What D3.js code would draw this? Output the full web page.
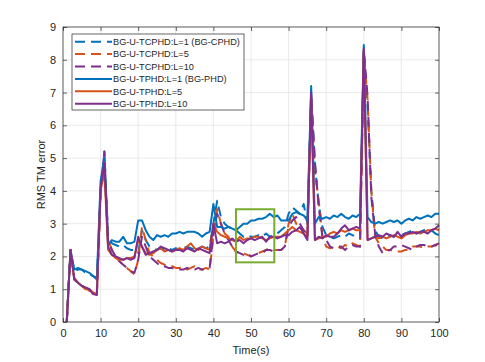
<!DOCTYPE html>
<html>
<head>
<meta charset="utf-8">
<script src="https://cdn.jsdelivr.net/npm/d3@7"></script>
<style>
  body { margin: 0; background: #fff; }
  svg text { font-family: "Liberation Sans", Arial, Helvetica, sans-serif; fill: #262626; }
</style>
</head>
<body>
<div id="chart"></div>
<script>
// time steps (s)
var time = d3.range(1, 101);

// BG-U-TCPHD (dashed)
var tcphdL1 = [
  0, 2.2, 1.55, 1.6, 1.6, 1.5, 1.45, 1.4, 1.35,
  4.0, 5.2, 2.6, 2.4, 2.35, 2.3, 2.35, 2.25, 2.2, 2.2,
  2.1, 2.8, 2.5, 2.3, 2.25, 2.2, 2.25, 2.2, 2.25, 2.2,
  2.25, 2.2, 2.25, 2.3, 2.25, 2.2, 2.25, 2.3, 2.25, 2.3,
  3.0, 3.7, 3.2, 3.0, 2.9, 2.85, 2.8, 2.7, 2.6, 2.65,
  2.6, 2.6, 2.65, 2.6, 2.7, 2.6, 2.65, 2.7, 2.8, 2.9,
  3.3, 3.5, 3.4, 3.3, 3.6, 3.0, 7.0, 4.8, 3.6, 2.9,
  2.65, 2.6, 2.55, 2.6, 2.65, 2.6, 2.7, 2.65, 2.6, 2.65,
  8.3, 6.6, 4.0, 2.8, 2.6, 2.55, 2.6, 2.65, 2.6, 2.7,
  2.65, 2.7, 2.75, 2.8, 2.7, 2.75, 2.8, 2.85, 2.8, 2.7, 2.65
];
var tcphdL5 = [
  0, 2.2, 1.35, 1.2, 1.1, 1.05, 0.95, 0.9, 0.85,
  3.9, 4.8, 2.5, 2.2, 2.0, 1.85, 1.75, 1.65, 1.55, 1.45,
  1.9, 2.9, 2.5, 2.1, 2.0, 1.9, 1.8, 1.75, 1.7, 1.7,
  1.65, 1.65, 1.7, 1.6, 1.65, 1.7, 1.6, 1.6, 1.65, 1.6,
  2.6, 3.45, 3.0, 2.7, 2.6, 2.3, 2.15, 2.1, 2.1, 2.05,
  2.0, 2.05, 2.1, 2.15, 2.2, 2.25, 2.2, 2.2, 2.2, 2.3,
  3.0, 3.3, 3.0, 2.9, 2.8, 2.7, 6.8, 4.6, 3.7, 2.6,
  2.3, 2.25, 2.3, 2.3, 2.25, 2.35, 2.3, 2.4, 2.35, 2.3,
  8.2, 6.8, 4.0, 2.6, 2.4, 2.3, 2.2, 2.2, 2.15, 2.15,
  2.15, 2.2, 2.2, 2.3, 2.3, 2.3, 2.25, 2.3, 2.3, 2.35, 2.25
];
var tcphdL10 = [
  0, 2.2, 1.3, 1.2, 1.1, 1.05, 1.0, 0.9, 0.85,
  4.0, 5.2, 2.5, 2.2, 2.0, 1.85, 1.75, 1.65, 1.55, 1.5,
  1.9, 2.6, 2.3, 2.0, 1.9, 1.8, 1.7, 1.7, 1.65, 1.65,
  1.6, 1.6, 1.6, 1.65, 1.6, 1.6, 1.65, 1.6, 1.6, 1.65,
  2.7, 3.3, 3.0, 2.7, 2.5, 2.3, 2.15, 2.1, 2.05, 2.1,
  2.0, 2.05, 2.1, 2.1, 2.2, 2.2, 2.15, 2.2, 2.2, 2.3,
  2.9, 3.1, 3.2, 3.0, 2.8, 2.6, 6.9, 4.9, 3.5, 2.6,
  2.5, 2.3, 2.25, 2.3, 2.3, 2.2, 2.3, 2.35, 2.3, 2.3,
  8.3, 6.9, 3.8, 2.7, 2.3, 2.1, 2.15, 2.2, 2.3, 2.3,
  2.35, 2.3, 2.25, 2.2, 2.3, 2.35, 2.35, 2.3, 2.3, 2.35, 2.4
];

// BG-U-TPHD (solid)
var tphdL1 = [
  0, 2.2, 1.6, 1.65, 1.6, 1.55, 1.5, 1.4, 1.3,
  4.3, 5.0, 2.35, 2.5, 2.45, 2.45, 2.6, 2.4, 2.4, 2.45,
  3.1, 3.1, 2.8, 2.6, 2.5, 2.65, 2.6, 2.65, 2.6, 2.7,
  2.7, 2.75, 2.7, 2.75, 2.75, 2.75, 2.7, 2.6, 2.7, 2.75,
  3.6, 2.9, 2.9, 2.85, 2.9, 2.85, 2.8, 2.9, 3.0, 3.0,
  3.1, 3.1, 3.15, 3.15, 3.2, 3.3, 3.2, 3.25, 3.1, 3.1,
  3.1, 3.3, 3.35, 3.3, 3.25, 3.1, 7.2, 3.0, 3.2, 3.15,
  3.2, 3.15, 3.25, 3.2, 3.3, 3.2, 3.15, 3.25, 3.2, 3.3,
  8.45, 3.2, 3.05, 3.0, 3.05, 3.0, 3.05, 3.1, 3.05, 3.1,
  3.0, 3.1, 3.15, 3.1, 3.2, 3.15, 3.2, 3.25, 3.2, 3.3, 3.3
];
var tphdL5 = [
  0, 2.2, 1.3, 1.2, 1.1, 1.0, 1.0, 0.9, 0.85,
  4.0, 4.6, 2.2, 2.05, 1.95, 1.9, 1.9, 1.95, 1.95, 2.0,
  2.5, 2.3, 2.1, 2.05, 2.1, 2.2, 2.25, 2.15, 2.2, 2.15,
  2.2, 2.25, 2.2, 2.3, 2.4, 2.25, 2.2, 2.3, 2.25, 2.2,
  3.0, 2.75, 2.65, 2.6, 2.55, 2.5, 2.45, 2.6, 2.5, 2.55,
  2.55, 2.6, 2.6, 2.55, 2.5, 2.55, 2.6, 2.6, 2.6, 2.7,
  2.8, 2.9, 2.8, 2.75, 2.7, 2.6, 6.9, 2.5, 2.55, 2.6,
  2.6, 2.7, 2.75, 2.7, 2.8, 2.75, 2.8, 2.85, 2.8, 2.8,
  8.3, 2.5, 2.55, 2.6, 2.55, 2.6, 2.55, 2.6, 2.65, 2.6,
  2.55, 2.65, 2.7, 2.7, 2.75, 2.7, 2.75, 2.8, 2.8, 2.85, 2.8
];
var tphdL10 = [
  0, 2.2, 1.3, 1.2, 1.1, 1.05, 1.0, 0.85, 0.82,
  4.1, 4.85, 2.3, 2.05, 2.0, 1.95, 1.9, 1.95, 1.9, 1.95,
  2.6, 2.3, 2.05, 2.1, 2.15, 2.2, 2.3, 2.25, 2.2, 2.15,
  2.2, 2.2, 2.15, 2.25, 2.2, 2.15, 2.25, 2.2, 2.15, 2.1,
  3.0, 2.4, 2.45, 2.4, 2.45, 2.55, 2.45, 2.5, 2.4, 2.5,
  2.55, 2.5, 2.55, 2.6, 2.45, 2.6, 2.6, 2.55, 2.6, 2.65,
  2.65, 2.75, 2.8, 2.9, 2.7, 2.5, 7.0, 2.5, 2.6, 2.55,
  2.65, 2.6, 2.6, 2.7, 2.85, 2.95, 2.8, 2.85, 2.9, 2.85,
  8.35, 2.5, 2.55, 2.6, 2.65, 2.6, 2.7, 2.65, 2.6, 2.75,
  2.6, 2.7, 2.7, 2.75, 2.7, 2.75, 2.75, 2.7, 2.8, 2.85, 2.95
];

var seriesNames = [
  "BG-U-TCPHD:L=1 (BG-CPHD)", "BG-U-TCPHD:L=5", "BG-U-TCPHD:L=10",
  "BG-U-TPHD:L=1 (BG-PHD)", "BG-U-TPHD:L=5", "BG-U-TPHD:L=10"
];
var seriesValues = [tcphdL1, tcphdL5, tcphdL10, tphdL1, tphdL5, tphdL10];
var seriesColors = ["#0072BD", "#D95319", "#7E2F8E", "#0072BD", "#D95319", "#7E2F8E"];
var seriesDashed = [true, true, true, false, false, false];

var xTicks = [0, 10, 20, 30, 40, 50, 60, 70, 80, 90, 100];
var yTicks = [0, 1, 2, 3, 4, 5, 6, 7, 8, 9];

// highlighted region [t0, t1, v0, v1]
var zoomBox = [46, 56.2, 1.82, 3.44];

var width = 485, height = 362;
var margin = { top: 27, right: 46, bottom: 40, left: 63 };
var plotW = width - margin.left - margin.right;
var plotH = height - margin.top - margin.bottom;

var svg = d3.select("#chart").append("svg")
  .attr("width", width)
  .attr("height", height);

var x = d3.scaleLinear().domain([0, 100]).range([margin.left, margin.left + plotW]);
var y = d3.scaleLinear().domain([0, 9]).range([margin.top + plotH, margin.top]);

// grid
var grid = svg.append("g").attr("stroke", "#e5e5e5").attr("stroke-width", 0.8);
grid.selectAll(".gx").data(xTicks).enter().append("line")
  .attr("x1", (d) => x(d)).attr("x2", (d) => x(d))
  .attr("y1", y(0)).attr("y2", y(9));
grid.selectAll(".gy").data(yTicks).enter().append("line")
  .attr("x1", x(0)).attr("x2", x(100))
  .attr("y1", (d) => y(d)).attr("y2", (d) => y(d));

// lines
var line = d3.line()
  .x((d, i) => x(time[i]))
  .y((d) => y(d));

svg.append("g").selectAll("path")
  .data(seriesValues).enter()
  .append("path")
  .attr("d", (d) => line(d))
  .attr("fill", "none")
  .attr("stroke", (d, i) => seriesColors[i])
  .attr("stroke-width", 2)
  .attr("stroke-linejoin", "round")
  .attr("stroke-dasharray", (d, i) => seriesDashed[i] ? "10,6" : null);

// green box
svg.append("rect")
  .attr("x", x(zoomBox[0]))
  .attr("y", y(zoomBox[3]))
  .attr("width", x(zoomBox[1]) - x(zoomBox[0]))
  .attr("height", y(zoomBox[2]) - y(zoomBox[3]))
  .attr("fill", "none")
  .attr("stroke", "#77AC30")
  .attr("stroke-width", 2);

// axes
function styleAxis(g) {
  g.select(".domain").remove();
  g.selectAll(".tick line").attr("stroke", "#262626").attr("stroke-width", 0.7);
  g.selectAll("text").attr("font-size", "11px").attr("fill", "#262626");
}

svg.append("g")
  .attr("transform", "translate(0," + y(0) + ")")
  .call(d3.axisBottom(x).tickValues(xTicks).tickSize(-4).tickPadding(7))
  .call(styleAxis);
svg.append("g")
  .attr("transform", "translate(0," + y(9) + ")")
  .call(d3.axisTop(x).tickValues(xTicks).tickSize(-4).tickFormat(""))
  .call(styleAxis);
svg.append("g")
  .attr("transform", "translate(" + x(0) + ",0)")
  .call(d3.axisLeft(y).tickValues(yTicks).tickSize(-4).tickPadding(7))
  .call(styleAxis);
svg.append("g")
  .attr("transform", "translate(" + x(100) + ",0)")
  .call(d3.axisRight(y).tickValues(yTicks).tickSize(-4).tickFormat(""))
  .call(styleAxis);

svg.append("rect")
  .attr("x", x(0)).attr("y", y(9))
  .attr("width", x(100) - x(0)).attr("height", y(0) - y(9))
  .attr("fill", "none").attr("stroke", "#262626").attr("stroke-width", 0.7);

// axis labels
svg.append("text")
  .attr("x", x(50)).attr("y", 354)
  .attr("text-anchor", "middle")
  .attr("font-size", "11px")
  .text("Time(s)");
svg.append("text")
  .attr("transform", "translate(44.5," + y(4.5) + ") rotate(-90)")
  .attr("text-anchor", "middle")
  .attr("font-size", "11px")
  .text("RMS TM error");

// legend
var legend = svg.append("g").attr("transform", "translate(72,34)");
legend.append("rect")
  .attr("width", 172).attr("height", 76)
  .attr("fill", "#fff").attr("stroke", "#262626").attr("stroke-width", 0.7);

var rows = legend.selectAll(".row")
  .data(seriesNames).enter()
  .append("g")
  .attr("transform", (d, i) => "translate(0," + (7.7 + i * 12.4) + ")");
rows.append("line")
  .attr("x1", 3).attr("x2", 40)
  .attr("stroke", (d, i) => seriesColors[i])
  .attr("stroke-width", 2)
  .attr("stroke-dasharray", (d, i) => seriesDashed[i] ? "10,6" : null);
rows.append("text")
  .attr("x", 41).attr("y", 3.3)
  .attr("font-size", "9.2px")
  .text((d) => d);
</script>
</body>
</html>
